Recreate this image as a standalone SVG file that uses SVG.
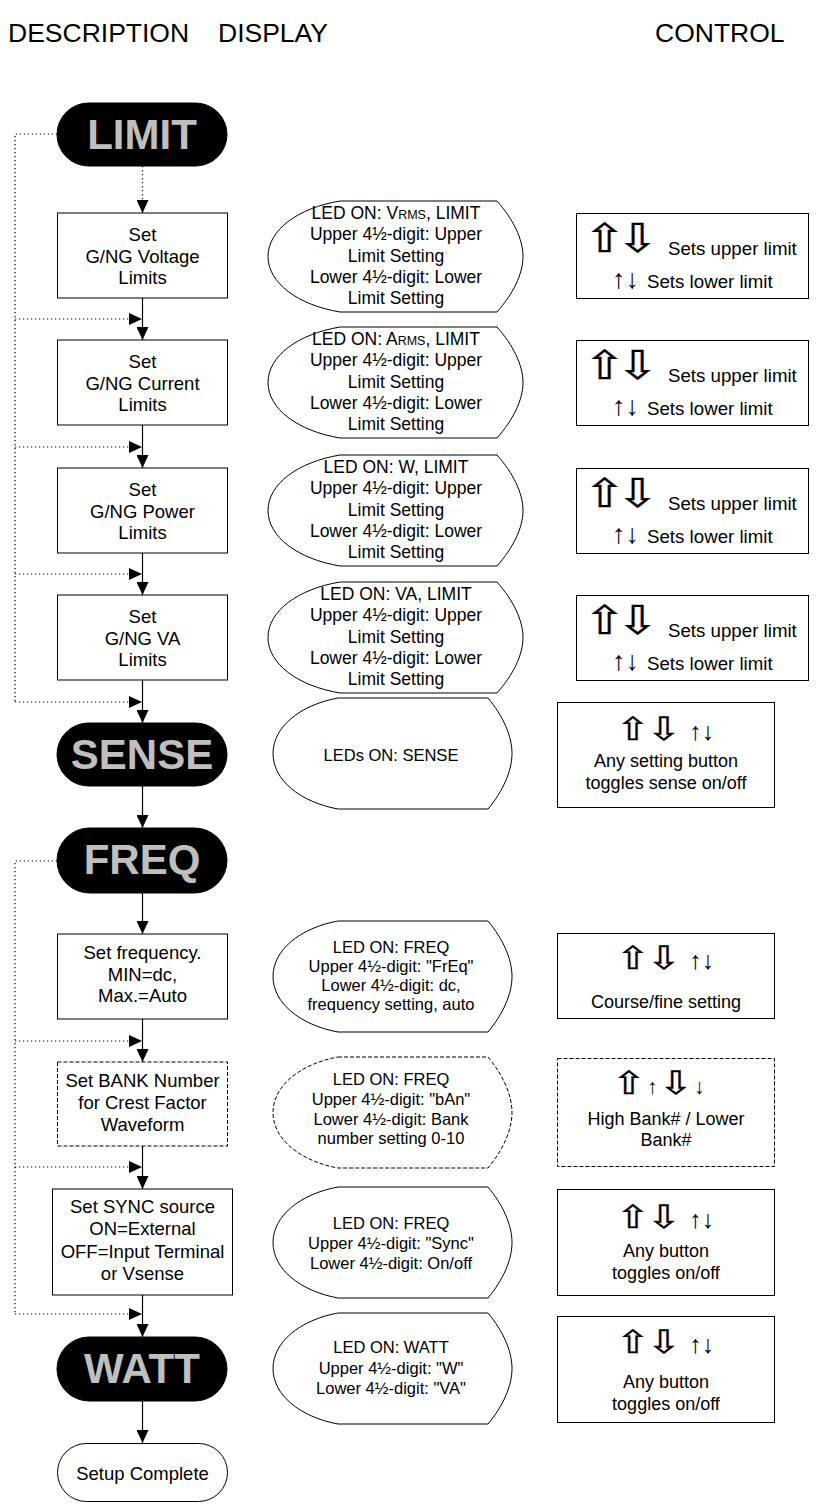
<svg xmlns="http://www.w3.org/2000/svg" xmlns:xlink="http://www.w3.org/1999/xlink" width="817" height="1504" viewBox="0 0 817 1504">
<style>
text{font-family:"Liberation Sans",Arial,sans-serif;fill:#000}
.hdr{font-size:26.5px}
.pill{fill:#000;stroke:#000}
.pt{font-size:42px;font-weight:bold;fill:#bfbfbf;text-anchor:middle}
.box{fill:#fff;stroke:#000;stroke-width:1}
.dash{stroke-dasharray:4 2}
.bt{font-size:18.5px;text-anchor:middle}
.dt{font-size:17.5px;text-anchor:middle}
.dt2{font-size:16.5px;text-anchor:middle}
.ct{font-size:18.7px}
.ct2{font-size:18px;text-anchor:middle}
.big{font-family:"DejaVu Sans",sans-serif;font-size:40px;stroke:#000;stroke-width:0.3;letter-spacing:-8.1px}
.big2{font-family:"DejaVu Sans",sans-serif;font-size:32px;stroke:#000;stroke-width:0.3;letter-spacing:-3.3px}
.sm{font-family:"Liberation Sans","DejaVu Sans",sans-serif;font-size:27px}
.sm2{font-family:"Liberation Sans","DejaVu Sans",sans-serif;font-size:25px}
.smB{font-family:"Liberation Sans","DejaVu Sans",sans-serif;font-size:21px}
.ln{fill:none;stroke:#000;stroke-width:1.2}
.dot{fill:none;stroke:#000;stroke-width:1.2;stroke-dasharray:1.2 2.8}
</style>
<defs>
<marker id="ah" markerUnits="userSpaceOnUse" markerWidth="13" markerHeight="12" refX="13" refY="6" orient="auto">
<path d="M0,0 L13,6 L0,12 Z" fill="#000"/>
</marker>
<path id="dL" d="M72,0 L229,0 C245,18 255,38 255,55.5 C255,73 245,93 229,111 L72,111 C30,104 0,82 0,55.5 C0,29 30,7 72,0 Z"/>
<path id="dS" d="M65,0 L215,0 C230,18 239,38 239,55.5 C239,73 230,93 215,111 L65,111 C27,104 0,82 0,55.5 C0,29 27,7 65,0 Z"/>
</defs>
<rect width="817" height="1504" fill="#fff"/>

<g id="headers">
<text class="hdr" x="8" y="42">DESCRIPTION</text>
<text class="hdr" x="218" y="42">DISPLAY</text>
<text class="hdr" x="655" y="42">CONTROL</text>
</g>

<g id="connectors">
<path class="dot" d="M142.5,166 V201"/>
<path class="ln" d="M142.5,201 V213" marker-end="url(#ah)"/>
<path class="ln" d="M142.5,298 V340" marker-end="url(#ah)"/>
<path class="ln" d="M142.5,425 V468" marker-end="url(#ah)"/>
<path class="ln" d="M142.5,553 V595" marker-end="url(#ah)"/>
<path class="ln" d="M142.5,680 V723" marker-end="url(#ah)"/>
<path class="ln" d="M142.5,786 V828" marker-end="url(#ah)"/>
<path class="ln" d="M142.5,893 V934" marker-end="url(#ah)"/>
<path class="ln" d="M142.5,1019 V1062" marker-end="url(#ah)"/>
<path class="ln" d="M142.5,1146 V1189" marker-end="url(#ah)"/>
<path class="ln" d="M142.5,1295 V1337" marker-end="url(#ah)"/>
<path class="ln" d="M142.5,1401 V1443" marker-end="url(#ah)"/>
<path class="dot" d="M57,134 H15 V702"/>
<path class="dot" d="M15,319 H142" marker-end="url(#ah)"/>
<path class="dot" d="M15,447 H142" marker-end="url(#ah)"/>
<path class="dot" d="M15,574 H142" marker-end="url(#ah)"/>
<path class="dot" d="M15,702 H142" marker-end="url(#ah)"/>
<path class="dot" d="M57,861 H15 V1314"/>
<path class="dot" d="M15,1041 H142" marker-end="url(#ah)"/>
<path class="dot" d="M15,1167 H142" marker-end="url(#ah)"/>
<path class="dot" d="M15,1314 H142" marker-end="url(#ah)"/>
</g>

<g id="limit"><rect class="pill" x="57" y="103" width="170" height="63" rx="31.5"/><text class="pt" x="142" y="149">LIMIT</text></g>

<g id="desc-voltage"><rect class="box" x="57.5" y="213" width="170" height="85"/>
<text class="bt" x="142.5" y="241">Set</text><text class="bt" x="142.5" y="262.5">G/NG Voltage</text><text class="bt" x="142.5" y="284">Limits</text></g>
<g id="disp-voltage"><use xlink:href="#dL" href="#dL" x="268" y="201" class="box"/>
<text class="dt" x="396" y="218.5">LED ON: V<tspan font-size="12.5">RMS</tspan>, LIMIT</text>
<text class="dt" x="396" y="240">Upper 4½-digit: Upper</text><text class="dt" x="396" y="261.5">Limit Setting</text>
<text class="dt" x="396" y="282.5">Lower 4½-digit: Lower</text><text class="dt" x="396" y="303.5">Limit Setting</text></g>
<g id="ctrl-voltage"><rect class="box" x="576.5" y="213.5" width="232" height="85"/>
<text class="big" transform="translate(583,252) scale(1.3,1)">⇧⇩</text>
<text class="ct" x="668" y="255">Sets upper limit</text>
<text class="sm" x="612" y="288">↑↓</text><text class="ct" x="647" y="288">Sets lower limit</text></g>

<g id="desc-current"><rect class="box" x="57.5" y="340" width="170" height="85"/>
<text class="bt" x="142.5" y="368">Set</text><text class="bt" x="142.5" y="389.5">G/NG Current</text><text class="bt" x="142.5" y="411">Limits</text></g>
<g id="disp-current"><use xlink:href="#dL" href="#dL" x="268" y="327" class="box"/>
<text class="dt" x="396" y="344.5">LED ON: A<tspan font-size="12.5">RMS</tspan>, LIMIT</text>
<text class="dt" x="396" y="366">Upper 4½-digit: Upper</text><text class="dt" x="396" y="387.5">Limit Setting</text>
<text class="dt" x="396" y="408.5">Lower 4½-digit: Lower</text><text class="dt" x="396" y="429.5">Limit Setting</text></g>
<g id="ctrl-current"><rect class="box" x="576.5" y="340.5" width="232" height="85"/>
<text class="big" transform="translate(583,379) scale(1.3,1)">⇧⇩</text>
<text class="ct" x="668" y="382">Sets upper limit</text>
<text class="sm" x="612" y="415">↑↓</text><text class="ct" x="647" y="415">Sets lower limit</text></g>

<g id="desc-power"><rect class="box" x="57.5" y="468" width="170" height="85"/>
<text class="bt" x="142.5" y="496">Set</text><text class="bt" x="142.5" y="517.5">G/NG Power</text><text class="bt" x="142.5" y="539">Limits</text></g>
<g id="disp-power"><use xlink:href="#dL" href="#dL" x="268" y="455" class="box"/>
<text class="dt" x="396" y="472.5">LED ON: W, LIMIT</text>
<text class="dt" x="396" y="494">Upper 4½-digit: Upper</text><text class="dt" x="396" y="515.5">Limit Setting</text>
<text class="dt" x="396" y="536.5">Lower 4½-digit: Lower</text><text class="dt" x="396" y="557.5">Limit Setting</text></g>
<g id="ctrl-power"><rect class="box" x="576.5" y="468.5" width="232" height="85"/>
<text class="big" transform="translate(583,507) scale(1.3,1)">⇧⇩</text>
<text class="ct" x="668" y="510">Sets upper limit</text>
<text class="sm" x="612" y="543">↑↓</text><text class="ct" x="647" y="543">Sets lower limit</text></g>

<g id="desc-va"><rect class="box" x="57.5" y="595" width="170" height="85"/>
<text class="bt" x="142.5" y="623">Set</text><text class="bt" x="142.5" y="644.5">G/NG VA</text><text class="bt" x="142.5" y="666">Limits</text></g>
<g id="disp-va"><use xlink:href="#dL" href="#dL" x="268" y="582" class="box"/>
<text class="dt" x="396" y="599.5">LED ON: VA, LIMIT</text>
<text class="dt" x="396" y="621">Upper 4½-digit: Upper</text><text class="dt" x="396" y="642.5">Limit Setting</text>
<text class="dt" x="396" y="663.5">Lower 4½-digit: Lower</text><text class="dt" x="396" y="684.5">Limit Setting</text></g>
<g id="ctrl-va"><rect class="box" x="576.5" y="595.5" width="232" height="85"/>
<text class="big" transform="translate(583,634) scale(1.3,1)">⇧⇩</text>
<text class="ct" x="668" y="637">Sets upper limit</text>
<text class="sm" x="612" y="670">↑↓</text><text class="ct" x="647" y="670">Sets lower limit</text></g>

<g id="sense"><rect class="pill" x="57" y="723" width="170" height="63" rx="31.5"/><text class="pt" x="142" y="769">SENSE</text></g>
<g id="disp-sense"><use xlink:href="#dS" href="#dS" x="273" y="698" class="box"/>
<text class="dt2" x="391" y="761">LEDs ON: SENSE</text></g>
<g id="ctrl-sense"><rect class="box" x="557.5" y="702.5" width="217" height="105"/>
<text class="big2" transform="translate(615,740) scale(1.32,1)">⇧⇩</text><text class="sm2" x="689" y="740">↑↓</text>
<text class="ct2" x="666" y="767">Any setting button</text><text class="ct2" x="666" y="789">toggles sense on/off</text></g>

<g id="freq"><rect class="pill" x="57" y="828" width="170" height="65" rx="32.5"/><text class="pt" x="142" y="874">FREQ</text></g>

<g id="desc-frequency"><rect class="box" x="57.5" y="934" width="170" height="85"/>
<text class="bt" x="142.5" y="959">Set frequency.</text><text class="bt" x="142.5" y="981">MIN=dc,</text><text class="bt" x="142.5" y="1002">Max.=Auto</text></g>
<g id="disp-frequency"><use xlink:href="#dS" href="#dS" x="273" y="921" class="box"/>
<text class="dt2" x="391" y="953">LED ON: FREQ</text><text class="dt2" x="391" y="972">Upper 4½-digit: "FrEq"</text>
<text class="dt2" x="391" y="991">Lower 4½-digit: dc,</text><text class="dt2" x="391" y="1010">frequency setting, auto</text></g>
<g id="ctrl-frequency"><rect class="box" x="557.5" y="933.5" width="217" height="85"/>
<text class="big2" transform="translate(615,969) scale(1.32,1)">⇧⇩</text><text class="sm2" x="689" y="969">↑↓</text>
<text class="ct2" x="666" y="1008">Course/fine setting</text></g>

<g id="desc-bank"><rect class="box dash" x="57.5" y="1062" width="170" height="84"/>
<text class="bt" x="142.5" y="1087">Set BANK Number</text><text class="bt" x="142.5" y="1109">for Crest Factor</text><text class="bt" x="142.5" y="1131">Waveform</text></g>
<g id="disp-bank"><use xlink:href="#dS" href="#dS" x="273" y="1057" class="box dash"/>
<text class="dt2" x="391" y="1085">LED ON: FREQ</text><text class="dt2" x="391" y="1105">Upper 4½-digit: "bAn"</text>
<text class="dt2" x="391" y="1125">Lower 4½-digit: Bank</text><text class="dt2" x="391" y="1144">number setting 0-10</text></g>
<g id="ctrl-bank"><rect class="box dash" x="557.5" y="1058.5" width="217" height="108"/>
<text class="big2" transform="translate(611,1094) scale(1.32,1)">⇧</text><text class="smB" x="647" y="1094">↑</text>
<text class="big2" transform="translate(658,1094) scale(1.32,1)">⇩</text><text class="smB" x="694" y="1094">↓</text>
<text class="ct2" x="666" y="1125">High Bank# / Lower</text><text class="ct2" x="666" y="1146">Bank#</text></g>

<g id="desc-sync"><rect class="box" x="52.5" y="1189" width="180" height="106"/>
<text class="bt" x="142.5" y="1213">Set SYNC source</text><text class="bt" x="142.5" y="1235">ON=External</text>
<text class="bt" x="142.5" y="1258">OFF=Input Terminal</text><text class="bt" x="142.5" y="1280">or Vsense</text></g>
<g id="disp-sync"><use xlink:href="#dS" href="#dS" x="273" y="1187" class="box"/>
<text class="dt2" x="391" y="1229">LED ON: FREQ</text><text class="dt2" x="391" y="1249">Upper 4½-digit: "Sync"</text>
<text class="dt2" x="391" y="1269">Lower 4½-digit: On/off</text></g>
<g id="ctrl-sync"><rect class="box" x="557.5" y="1189.5" width="217" height="106"/>
<text class="big2" transform="translate(615,1228) scale(1.32,1)">⇧⇩</text><text class="sm2" x="689" y="1228">↑↓</text>
<text class="ct2" x="666" y="1257">Any button</text><text class="ct2" x="666" y="1279">toggles on/off</text></g>

<g id="watt"><rect class="pill" x="57" y="1337" width="170" height="64" rx="32"/><text class="pt" x="142" y="1383">WATT</text></g>
<g id="disp-watt"><use xlink:href="#dS" href="#dS" x="273" y="1313" class="box"/>
<text class="dt2" x="391" y="1353">LED ON: WATT</text><text class="dt2" x="391" y="1374">Upper 4½-digit: "W"</text>
<text class="dt2" x="391" y="1394">Lower 4½-digit: "VA"</text></g>
<g id="ctrl-watt"><rect class="box" x="557.5" y="1316.5" width="217" height="106"/>
<text class="big2" transform="translate(615,1353) scale(1.32,1)">⇧⇩</text><text class="sm2" x="689" y="1353">↑↓</text>
<text class="ct2" x="666" y="1388">Any button</text><text class="ct2" x="666" y="1410">toggles on/off</text></g>

<g id="setup-complete"><rect class="box" x="57.5" y="1443.5" width="170" height="58" rx="29"/>
<text class="bt" x="142.5" y="1480">Setup Complete</text></g>
</svg>
